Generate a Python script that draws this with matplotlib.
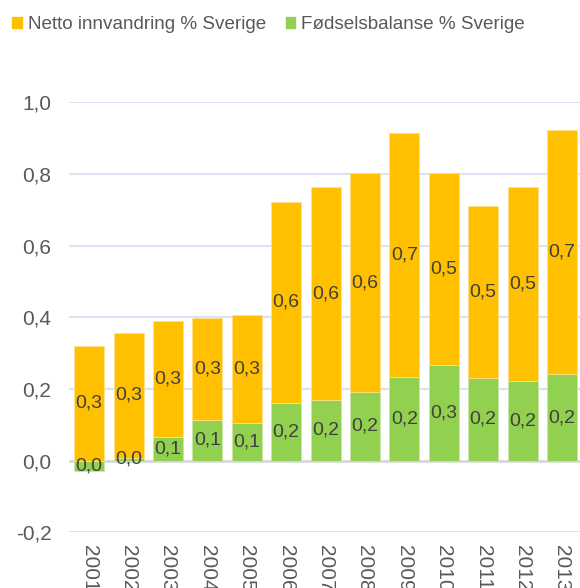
import matplotlib.pyplot as plt
from matplotlib.patches import Patch
from matplotlib.ticker import FuncFormatter

plt.rcParams['font.family'] = ['Liberation Sans', 'DejaVu Sans']

years = ['2001', '2002', '2003', '2004', '2005', '2006', '2007',
         '2008', '2009', '2010', '2011', '2012', '2013']
# Fødselsbalanse (green) and netto innvandring (orange), % of population
births = [-0.028, 0.008, 0.067, 0.113, 0.104, 0.161, 0.170,
          0.192, 0.233, 0.267, 0.230, 0.222, 0.241]
migration = [0.321, 0.348, 0.322, 0.284, 0.302, 0.562, 0.593,
             0.610, 0.681, 0.535, 0.481, 0.541, 0.683]

ORANGE = '#FFC000'
GREEN = '#92D050'
TXT = '#404040'
TICK = '#595959'


def fmt(v):
    s = f"{v:.1f}".replace('.', ',')
    return '0,0' if s == '-0,0' else s


fig = plt.figure(figsize=(5.8, 5.88), dpi=100)
ax = fig.add_axes([0.1198, 0.0947, 0.8831, 0.7310])

x = list(range(len(years)))
base = [max(b, 0) for b in births]
w = 0.76

gb = ax.bar(x, births, width=w, color=GREEN, edgecolor='#C9E8A8', linewidth=0.6, zorder=3)
ob = ax.bar(x, migration, width=w, bottom=base, color=ORANGE, edgecolor='#FFE08A',
            linewidth=0.6, zorder=3)

ax.bar_label(gb, labels=[fmt(v) for v in births], label_type='center',
             fontsize=14, color=TXT, zorder=4)
ax.bar_label(ob, labels=[fmt(v) for v in migration], label_type='center',
             fontsize=14, color=TXT, zorder=4)

ax.set_xlim(-0.5, len(years) - 0.5)
ax.set_ylim(-0.2, 1.0)
ax.set_yticks([-0.2, 0.0, 0.2, 0.4, 0.6, 0.8, 1.0])
ax.yaxis.set_major_formatter(FuncFormatter(lambda v, p: fmt(v)))
ax.grid(axis='y', color='#DAE3F3', linewidth=1.5, zorder=0)
ax.axhline(0, color='#D9D9D9', linewidth=2, zorder=2)

ax.set_xticks(x)
ax.set_xticklabels(years, rotation=270, va='top', ha='center')
ax.tick_params(axis='x', length=0, pad=9, labelsize=15, labelcolor=TICK)
ax.tick_params(axis='y', length=0, pad=13, labelsize=15, labelcolor=TICK)
for s in ax.spines.values():
    s.set_visible(False)

handles = [Patch(color=ORANGE, label='Netto innvandring % Sverige'),
           Patch(color=GREEN, label='Fødselsbalanse % Sverige')]
fig.legend(handles=handles, loc='upper left', bbox_to_anchor=(0.002, 0.992), ncol=2,
           frameon=False, fontsize=13.6, labelcolor=TICK, handlelength=0.5,
           handleheight=0.5, handletextpad=0.3, columnspacing=1.05, borderaxespad=0.2)

fig.savefig('out.png', dpi=100)
